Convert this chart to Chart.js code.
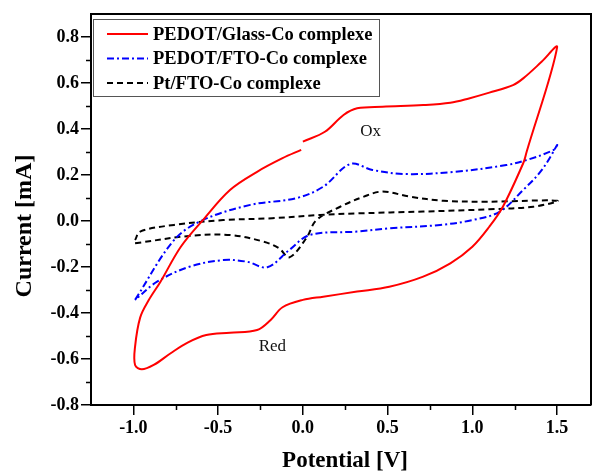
<!DOCTYPE html>
<html>
<head>
<meta charset="utf-8">
<script src="https://cdn.jsdelivr.net/npm/chart.js@4.4.1/dist/chart.umd.min.js"></script>
<style>
  html, body { margin: 0; padding: 0; background: #fff; }
  #wrap { width: 592px; height: 473px; }
</style>
</head>
<body>
<div id="wrap"><canvas id="cv"></canvas></div>
<script>
"use strict";

// series names
const seriesLabels = ["PEDOT/Glass-Co complexe", "PEDOT/FTO-Co complexe", "Pt/FTO-Co complexe"];

// PEDOT/Glass (red) - potential [V] / current [mA]
const glassV = [0.00, 0.13, 0.24, 0.32, 0.47, 0.71, 0.87, 0.98, 1.10, 1.24, 1.30, 1.41, 1.50,
  1.32, 1.30, 1.18, 1.10, 1.00, 0.87, 0.71, 0.51, 0.32, 0.12, 0.00, -0.12, -0.19, -0.27, -0.43,
  -0.57, -0.68, -0.78, -0.88, -0.95, -0.99, -0.99, -0.96, -0.91, -0.84, -0.72, -0.59, -0.43,
  -0.27, -0.12, -0.01];
const glassI = [0.345, 0.388, 0.461, 0.490, 0.497, 0.504, 0.514, 0.533, 0.558, 0.591, 0.620, 0.693, 0.755,
  0.300, 0.251, 0.062, -0.025, -0.112, -0.184, -0.242, -0.286, -0.307, -0.329, -0.343, -0.375, -0.430,
  -0.474, -0.486, -0.496, -0.529, -0.575, -0.626, -0.645, -0.626, -0.546, -0.420, -0.345, -0.264,
  -0.112, 0.004, 0.135, 0.214, 0.273, 0.309];

// PEDOT/FTO (blue)
const ftoV = [-0.99, -0.76, -0.59, -0.31, -0.04, 0.12, 0.28, 0.41, 0.61, 0.90, 1.20, 1.32, 1.48, 1.50,
  1.41, 1.30, 1.16, 1.00, 0.81, 0.51, 0.32, 0.04, -0.08, -0.21, -0.33, -0.47, -0.67, -0.86, -0.99];
const ftoI = [-0.343, -0.083, 0.004, 0.070, 0.099, 0.149, 0.248, 0.222, 0.204, 0.214, 0.243, 0.265, 0.309, 0.330,
  0.222, 0.135, 0.040, 0.004, -0.017, -0.032, -0.046, -0.061, -0.126, -0.201, -0.177, -0.170, -0.199, -0.264, -0.343];

// Pt/FTO (black)
const ptV = [-0.99, -0.67, -0.43, -0.23, -0.14, -0.08, 0.02, 0.08, 0.22, 0.36, 0.47, 0.63, 0.83, 1.10, 1.50,
  1.36, 1.10, 0.71, 0.32, 0.10, -0.18, -0.47, -0.76, -0.96, -0.99];
const ptI = [-0.097, -0.065, -0.061, -0.090, -0.119, -0.158, -0.075, 0.004, 0.062, 0.106, 0.128, 0.106, 0.088, 0.084, 0.088,
  0.062, 0.051, 0.041, 0.033, 0.026, 0.012, 0.004, -0.017, -0.046, -0.083];

// tick labels
const xTicks = [-1.0, -0.5, 0.0, 0.5, 1.0, 1.5];
const yTicks = [-0.8, -0.6, -0.4, -0.2, 0.0, 0.2, 0.4, 0.6, 0.8];
const xMinor = [-0.75, -0.25, 0.25, 0.75, 1.25];
const yMinor = [-0.7, -0.5, -0.3, -0.1, 0.1, 0.3, 0.5, 0.7];

// peak annotations
const notes = [
  { text: "Ox", v: 0.40, i: 0.388 },
  { text: "Red", v: -0.18, i: -0.547 }
];

const SERIF = '"Liberation Serif", "Times New Roman", serif';

function pts(xs, ys) {
  return xs.map((x, k) => ({ x: x, y: ys[k] }));
}

const frame = {
  id: "frame",
  afterDraw: function (chart) {
    const ctx = chart.ctx;
    const a = chart.chartArea;
    const xs = chart.scales.x, ys = chart.scales.y;
    ctx.save();
    ctx.strokeStyle = "#000";
    ctx.lineWidth = 2;
    ctx.beginPath();
    ctx.moveTo(a.left, a.top);
    ctx.lineTo(a.right, a.top);
    ctx.lineTo(a.right, a.bottom);
    ctx.stroke();
    // minor ticks
    ctx.lineWidth = 1.5;
    ctx.beginPath();
    xMinor.forEach(v => {
      const px = Math.round(xs.getPixelForValue(v)) + 0.5;
      ctx.moveTo(px, a.bottom);
      ctx.lineTo(px, a.bottom + 5);
    });
    yMinor.forEach(v => {
      const py = Math.round(ys.getPixelForValue(v)) + 0.5;
      ctx.moveTo(a.left, py);
      ctx.lineTo(a.left - 5, py);
    });
    ctx.stroke();
    // axis titles
    ctx.fillStyle = "#000";
    ctx.textAlign = "center";
    ctx.textBaseline = "middle";
    ctx.font = "bold 23px " + SERIF;
    ctx.fillText("Potential [V]", 345, 461);
    ctx.save();
    ctx.translate(25, 226);
    ctx.rotate(-Math.PI / 2);
    ctx.font = "bold 24px " + SERIF;
    ctx.fillText("Current [mA]", 0, 0);
    ctx.restore();
    // annotations
    ctx.fillStyle = "#111";
    ctx.font = "17px " + SERIF;
    notes.forEach(n => ctx.fillText(n.text, xs.getPixelForValue(n.v), ys.getPixelForValue(n.i)));
    // legend box
    ctx.strokeStyle = "#555";
    ctx.lineWidth = 1;
    ctx.strokeRect(93.5, 19.5, 286, 77);
    ctx.font = "bold 18.5px " + SERIF;
    ctx.textAlign = "left";
    ctx.fillStyle = "#000";
    chart.data.datasets.forEach((ds, k) => {
      const y = 34 + k * 24.5;
      ctx.strokeStyle = ds.borderColor;
      ctx.lineWidth = 2;
      ctx.setLineDash(ds.borderDash || []);
      ctx.beginPath();
      ctx.moveTo(107, y);
      ctx.lineTo(148, y);
      ctx.stroke();
      ctx.setLineDash([]);
      ctx.fillText(ds.label, 153, y + 1);
    });
    ctx.restore();
  }
};

const tickFont = { family: SERIF, size: 18, weight: "bold" };

new Chart(document.getElementById("cv"), {
  type: "scatter",
  data: {
    datasets: [
      { label: seriesLabels[0], data: pts(glassV, glassI), borderColor: "#ff0000", borderWidth: 2 },
      { label: seriesLabels[1], data: pts(ftoV, ftoI), borderColor: "#0000ff", borderWidth: 2, borderDash: [7, 3, 2, 3] },
      { label: seriesLabels[2], data: pts(ptV, ptI), borderColor: "#000000", borderWidth: 2, borderDash: [6, 4] }
    ].map(d => Object.assign(d, { showLine: true, pointRadius: 0, tension: 0.35, fill: false }))
  },
  options: {
    responsive: true,
    maintainAspectRatio: false,
    animation: false,
    layout: { padding: { top: 14, right: 1, left: 0, bottom: 0 } },
    plugins: { legend: { display: false }, tooltip: { enabled: false } },
    scales: {
      x: {
        type: "linear",
        min: -1.25,
        max: 1.7,
        afterBuildTicks: s => { s.ticks = xTicks.map(v => ({ value: v })); },
        afterFit: s => { s.height = 68; },
        ticks: { font: tickFont, color: "#000", padding: 3, maxRotation: 0, callback: v => v.toFixed(1) },
        grid: { drawOnChartArea: false, drawTicks: true, tickLength: 10, color: "#000", lineWidth: 1.5 },
        border: { color: "#000", width: 2 }
      },
      y: {
        type: "linear",
        min: -0.8,
        max: 0.9,
        afterBuildTicks: s => { s.ticks = yTicks.map(v => ({ value: v })); },
        afterFit: s => { s.width = 91; },
        ticks: { font: tickFont, color: "#000", padding: 2, callback: v => v.toFixed(1) },
        grid: { drawOnChartArea: false, drawTicks: true, tickLength: 10, color: "#000", lineWidth: 1.5 },
        border: { color: "#000", width: 2 }
      }
    }
  },
  plugins: [frame]
});
</script>
</body>
</html>
